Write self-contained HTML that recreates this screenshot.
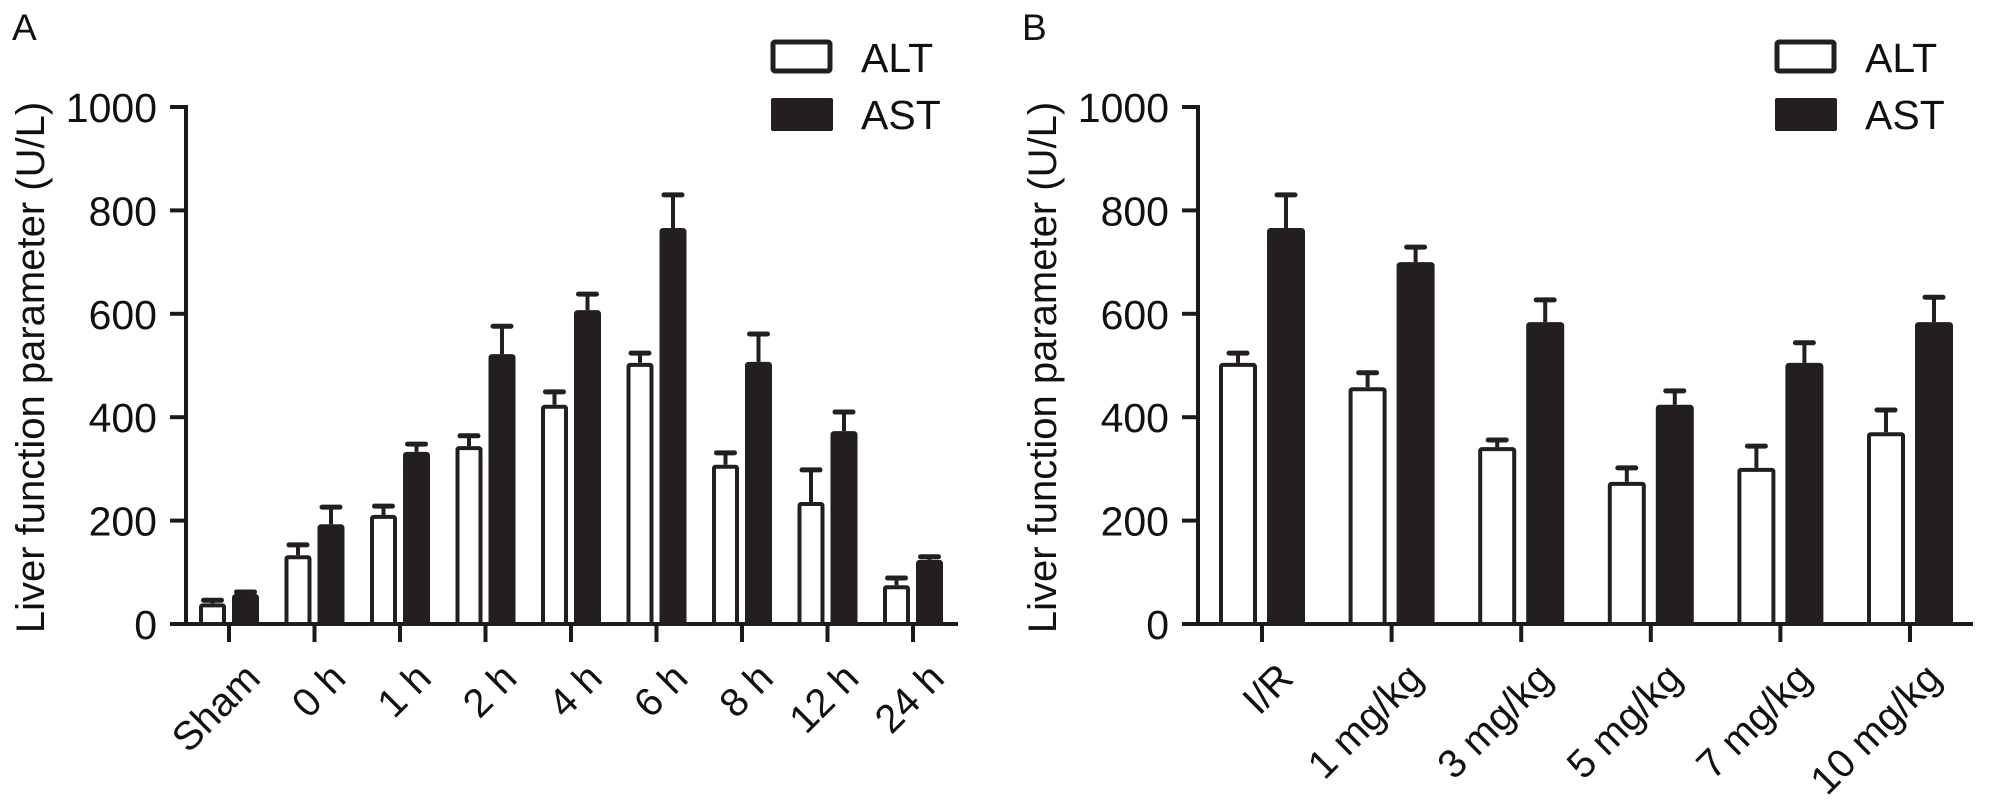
<!DOCTYPE html>
<html><head><meta charset="utf-8"><style>
html,body{margin:0;padding:0;background:#fff;}
svg{display:block;font-family:"Liberation Sans",Arial,sans-serif;}
</style></head><body>
<svg id="chart" width="1990" height="809" viewBox="0 0 1990 809" xmlns="http://www.w3.org/2000/svg"></svg>
<script>
const catsA = ["Sham","0 h","1 h","2 h","4 h","6 h","8 h","12 h","24 h"];
const altA = [40,133,211,344,424,505,308,236,75];
const altErrA = [46,153,228,364,449,524,331,298,89];
const astA = [58,193,333,522,607,766,507,373,124];
const astErrA = [62,226,348,576,638,830,561,410,130];
const catsB = ["I/R","1 mg/kg","3 mg/kg","5 mg/kg","7 mg/kg","10 mg/kg"];
const altB = [505,458,342,275,302,371];
const altErrB = [524,486,356,302,344,414];
const astB = [766,700,584,424,505,584];
const astErrB = [830,729,627,451,544,632];
const yTicks = [0,200,400,600,800,1000];

const NS="http://www.w3.org/2000/svg";
const svg=document.getElementById('chart');
function mk(tag,attrs,parent){const e=document.createElementNS(NS,tag);for(const k in attrs)e.setAttribute(k,attrs[k]);(parent||svg).appendChild(e);return e;}
const y0=624, yk=0.517;
function yS(v){return y0-v*yk;}

function panel(p){
  const g=mk('g',{});
  
  
  const L=mk('text',{x:p.letterX,y:40,'font-size':37,fill:'#111'},g);L.textContent=p.letter;
  
  
  const ax=mk('line',{x1:p.axX,y1:yS(1000)-2,x2:p.axX,y2:y0+2,stroke:'#1a1a1a','stroke-width':4},g);
  
  
  yTicks.forEach(t=>{
    mk('line',{x1:p.axX-16,y1:yS(t),x2:p.axX,y2:yS(t),stroke:'#1a1a1a','stroke-width':4},g);
    const tx=mk('text',{x:p.axX-29,y:yS(t)+15,'font-size':41,'text-anchor':'end',fill:'#111'},g);
    tx.textContent=t;
    
    
  });
  const yt=mk('text',{transform:`translate(${p.axX-142},${(yS(1000)+y0)/2+2}) rotate(-90)`,'font-size':40,'text-anchor':'middle',fill:'#111'},g);
  yt.textContent='Liver function parameter (U/L)';
  
  
  const xa=mk('line',{x1:p.axX-2,y1:y0,x2:p.axEnd,y2:y0,stroke:'#1a1a1a','stroke-width':4},g);
  
  
  p.cats.forEach((c,i)=>{
    const cx=p.c0+i*p.step;
    const drawBar=(v,e,left,filled,nm)=>{
      const x=left?cx-p.off-p.bw:cx+p.off;
      const top=yS(v);
      const ex=x+p.bw/2;
      const el=mk('line',{x1:ex,y1:top,x2:ex,y2:yS(e),stroke:'#231f20','stroke-width':4},g);
      
      
      const cap=mk('line',{x1:ex-9,y1:yS(e),x2:ex+9,y2:yS(e),stroke:'#231f20','stroke-width':5,'stroke-linecap':'round'},g);
      
      
      const r=mk('rect',{x:x+2,y:top+2,width:p.bw-4,height:y0-top-2,fill:filled?'#231f20':'#fff',stroke:'#231f20','stroke-width':4,rx:1.5},g);
      
      
    };
    drawBar(p.alt[i],p.altE[i],true,false,'bar-alt');
    drawBar(p.ast[i],p.astE[i],false,true,'bar-ast');
    mk('line',{x1:cx,y1:y0,x2:cx,y2:y0+18,stroke:'#1a1a1a','stroke-width':4},g);
    const lb=mk('text',{transform:`translate(${cx+13},${y0+36}) rotate(-45)`,'font-size':40,'text-anchor':'end',dy:'0.72em',fill:'#111'},g);
    lb.textContent=c;
    
    
  });
  const lg=mk('g',{},g);
  
  
  const r1=mk('rect',{x:p.legX+2,y:42,width:57,height:29,fill:'#fff',stroke:'#231f20','stroke-width':5,rx:2},lg);
  
  
  const t1=mk('text',{x:p.legX+90,y:72,'font-size':41,fill:'#111'},lg);t1.textContent='ALT';
  
  
  const r2=mk('rect',{x:p.legX,y:98,width:62,height:33,fill:'#231f20',rx:2},lg);
  
  
  const t2=mk('text',{x:p.legX+90,y:129,'font-size':41,fill:'#111'},lg);t2.textContent='AST';
  
  
}
panel({name:'panel-a',letter:'A',letterX:12,axX:186,axEnd:958,cats:catsA,alt:altA,altE:altErrA,ast:astA,astE:astErrA,c0:229,step:85.5,bw:27,off:3,legX:771});
panel({name:'panel-b',letter:'B',letterX:1022,axX:1198,axEnd:1973,cats:catsB,alt:altB,altE:altErrB,ast:astB,astE:astErrB,c0:1262,step:129.6,bw:38,off:5,legX:1775});
</script>
</body></html>
